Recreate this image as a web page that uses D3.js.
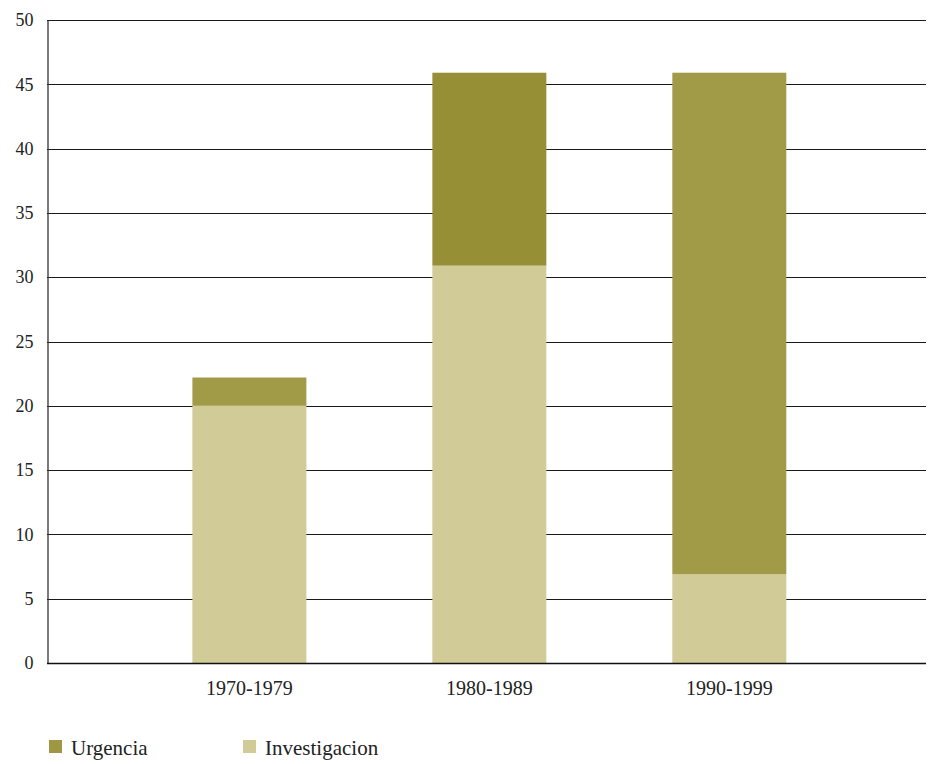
<!DOCTYPE html>
<html><head><meta charset="utf-8">
<script src="https://cdn.jsdelivr.net/npm/d3@7"></script>
<style>
body{margin:0;background:#fff;}
text{font-family:"Liberation Serif","DejaVu Serif",serif;fill:#222;font-variant-numeric:oldstyle-nums;}
</style></head>
<body><svg id="c" width="931" height="764"></svg>
<script>
const categories = ["1970-1979","1980-1989","1990-1999"];
const investigacion = [20, 30.9, 6.9];
const urgencia = [2.2, 15, 39];
const seriesNames = ["Urgencia","Investigacion"];
const yTicks = [0,5,10,15,20,25,30,35,40,45,50];
const urgColors = ["#a19b48","#968f35","#a19b48"];
const urgLegendColor = "#9e9843";
const invColor = "#d0cb97";

const svg = d3.select("#c");
const L=47, R=926, T=20, B=663;
const x = d3.scaleBand().domain(categories).range([L,R]).paddingInner(0.525).paddingOuter(0.594).align(0.51);
const y = d3.scaleLinear().domain([0,50]).range([B,T]);

// gridlines
svg.append("g").selectAll("line").data(yTicks.filter(d=>d>0)).join("line")
  .attr("x1",L).attr("x2",R).attr("y1",d=>Math.round(y(d))+0.5).attr("y2",d=>Math.round(y(d))+0.5)
  .attr("stroke","#1a1a1a").attr("stroke-width",1);

const data = categories.map((c,i)=>({c, inv:investigacion[i], urg:urgencia[i], col:urgColors[i]}));
const g = svg.append("g");
g.selectAll(".inv").data(data).join("rect")
  .attr("x",d=>x(d.c)).attr("width",x.bandwidth())
  .attr("y",d=>y(d.inv)).attr("height",d=>y(0)-y(d.inv)).attr("fill",invColor);
g.selectAll(".urg").data(data).join("rect")
  .attr("x",d=>x(d.c)).attr("width",x.bandwidth())
  .attr("y",d=>y(d.inv+d.urg)).attr("height",d=>y(d.inv)-y(d.inv+d.urg)).attr("fill",d=>d.col);

// axes
const ya = svg.append("g").attr("transform",`translate(${L+0.5},0)`)
  .call(d3.axisLeft(y).tickValues(yTicks).tickSize(0).tickPadding(14));
ya.select(".domain").attr("stroke","#333").attr("stroke-width",1.3);
ya.selectAll("text").attr("font-size",18).style("font-family",'"Liberation Serif",serif').attr("fill","#222");

const xa = svg.append("g").attr("transform",`translate(0,${B+0.5})`)
  .call(d3.axisBottom(x).tickSize(0).tickPadding(17));
xa.select(".domain").attr("stroke","#111").attr("stroke-width",1.3).attr("d",`M${L},0H${R}`);
xa.selectAll("text").attr("font-size",20).style("font-family",'"Liberation Serif",serif').attr("fill","#222");

// legend
const leg = [{n:seriesNames[0],c:urgLegendColor,x:49},{n:seriesNames[1],c:invColor,x:243}];
const lg = svg.append("g");
lg.selectAll("rect").data(leg).join("rect").attr("x",d=>d.x).attr("y",740).attr("width",13).attr("height",13).attr("fill",d=>d.c);
lg.selectAll("text").data(leg).join("text").attr("x",d=>d.x+22).attr("y",755).attr("font-size",21).text(d=>d.n);
</script></body></html>
